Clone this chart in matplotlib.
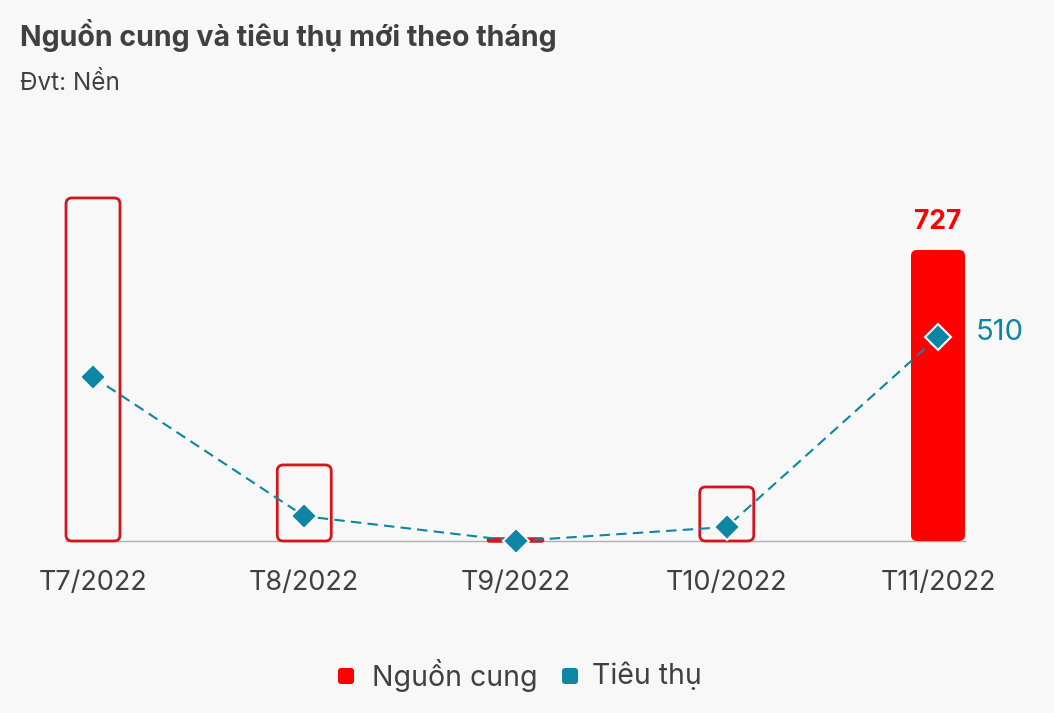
import matplotlib
matplotlib.use("Agg")
import matplotlib.pyplot as plt
from matplotlib.patches import FancyBboxPatch
import numpy as np

plt.rcParams['font.family'] = ['Inter', 'DejaVu Sans']

months = ['T7/2022', 'T8/2022', 'T9/2022', 'T10/2022', 'T11/2022']
supply = [857, 190, 5, 135, 727]        # Nguồn cung
consumption = [410, 62, 0, 35, 510]     # Tiêu thụ

RED = '#fe0000'
RED_EDGE = '#d4151c'
TEAL = '#0c86a3'
TXT = '#404040'
BG = '#f8f8f8'

W, H = 1054, 713
fig = plt.figure(figsize=(W / 100, H / 100), dpi=100, facecolor=BG)

# axes geometry in pixels
x0_px, xscale = 93, 211.25
base_px, yscale = 172, 0.4003
top_px = H - 150
xl = (-x0_px / xscale, 4 + (W - 938) / xscale)
ax = fig.add_axes([0, base_px / H, 1, (top_px - base_px) / H])
ax.set_facecolor('none')
ax.set_xlim(*xl)
ax.set_ylim(0, (top_px - base_px) / yscale)
for s in ax.spines.values():
    s.set_visible(False)
ax.set_yticks([])
ax.set_xticks([])

x = np.arange(len(months))
bw = 54 / xscale
# aspect: data-y per px over data-x per px
asp = (1 / yscale) / (1 / xscale)
rad = 6 / xscale

bars = ax.bar(x, supply, width=bw, alpha=0)
for i, b in enumerate(bars):
    h = b.get_height()
    r = min(rad, h / asp / 2 * 0.9)
    filled = i == len(months) - 1
    p = FancyBboxPatch((b.get_x(), 0), b.get_width(), h,
                       boxstyle=f"round,pad=0,rounding_size={r}",
                       mutation_aspect=asp,
                       facecolor=RED if filled else 'none',
                       edgecolor=RED if filled else RED_EDGE,
                       linewidth=0 if filled else 2.0 if h > 20 else 2.5,
                       zorder=2, clip_on=False)
    ax.add_patch(p)

# baseline
ax.plot([x[0] - bw / 2, x[-1] + bw / 2], [0, 0], color='#b0b0b0', lw=1.0, zorder=1, clip_on=False)

ax.plot(x, consumption, ls=(0, (5, 3)), color=TEAL, lw=1.5, zorder=3, clip_on=False)
ax.plot(x, consumption, ls='none', marker='D', ms=13, color=TEAL,
        markeredgecolor='white', markeredgewidth=1.5, zorder=4, clip_on=False)

ax.text(x[-1], supply[-1] + 70, f"{supply[-1]}", color=RED, fontsize=19, fontweight='bold',
        ha='center', va='center')
ax.text(x[-1] + 0.18, consumption[-1] + 12, f"{consumption[-1]}", color=TEAL, fontsize=21,
        ha='left', va='center')

for xi, m in zip(x, months):
    ax.text(xi, -105, m, ha='center', va='center', fontsize=19.5, color=TXT)

fig.text(20 / W, 1 - 36 / H, 'Nguồn cung và tiêu thụ mới theo tháng', fontsize=20.5,
         fontweight='bold', color=TXT, ha='left', va='center')
fig.text(20 / W, 1 - 83 / H, 'Đvt: Nền', fontsize=17.5, color=TXT, ha='left', va='center')

# legend
ly = 1 - 676 / H
for lx, tx, c, lab in [(346, 372, RED, 'Nguồn cung'), (570, 592, TEAL, 'Tiêu thụ')]:
    fig.patches.append(FancyBboxPatch(((lx - 8) / W, ly - 8 / H), 16 / W, 16 / H,
                                      boxstyle=f"round,pad=0,rounding_size={3 / W}",
                                      mutation_aspect=W / H,
                                      transform=fig.transFigure, facecolor=c, edgecolor='none'))
    fig.text(tx / W, ly, lab, fontsize=20.5, color=TXT, ha='left', va='center')

fig.savefig('out.png', dpi=100, facecolor=BG)
